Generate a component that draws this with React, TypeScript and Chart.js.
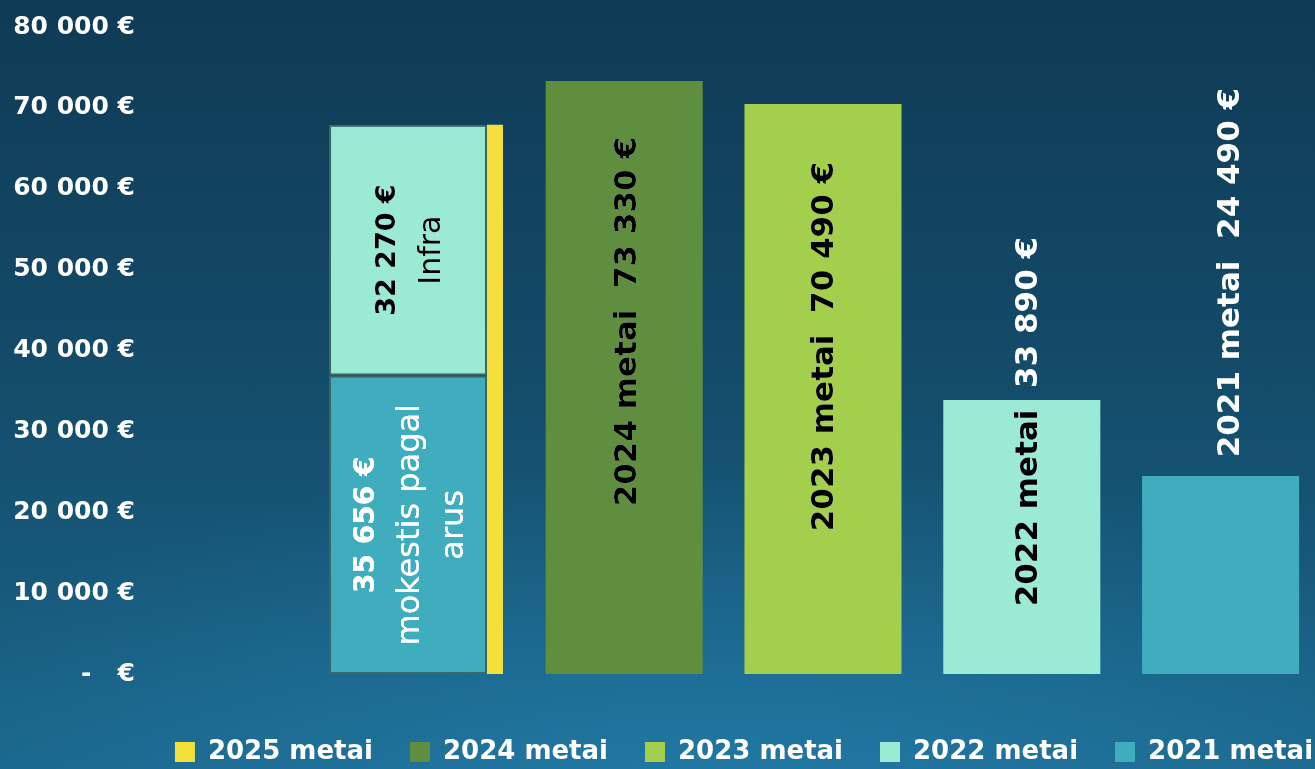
import React, { useEffect, useRef } from "react";
import { Chart, registerables } from "chart.js";

Chart.register(...registerables);

// ---------- data ----------
const categories = ["2025", "2024", "2023", "2022", "2021"];
const mokestisValues = [36900, null, null, null, null];
const infraValues = [31026, null, null, null, null];
const values2025 = [67926, null, null, null, null];
const values2024 = [null, 73330, null, null, null];
const values2023 = [null, null, 70490, null, null];
const values2022 = [null, null, null, 33890, null];
const values2021 = [null, null, null, null, 24490];
const seriesNames = ["2025 metai", "2024 metai", "2023 metai", "2022 metai", "2021 metai"];
const yTickValues = [0, 10000, 20000, 30000, 40000, 50000, 60000, 70000, 80000];
const yTickLabels = ["-   €", "10 000 €", "20 000 €", "30 000 €", "40 000 €", "50 000 €", "60 000 €", "70 000 €", "80 000 €"];
const mokestisLabel = ["35 656 €", "mokestis pagal", "arus"];
const infraLabel = ["32 270 €", "Infra"];
const yearLabels = ["2024 metai  73 330 €", "2023 metai  70 490 €", "2022 metai  33 890 €", "2021 metai  24 490 €"];

// ---------- styles ----------
const FONT = '"DejaVu Sans", "Noto Sans", sans-serif';
const colors = {
  y2025: "#f4df3b",
  y2024: "#5f8f3e",
  y2023: "#a3cf4c",
  y2022: "#9aead6",
  y2021: "#40adbe",
  border: "#3c6865",
};

type Line = { text: string; bold: boolean; size: number };
type LabelSpec = {
  dataset: number;
  index: number;
  mode: "center" | "end";
  dx: number;
  dy: number;
  gap: number;
  inside: string;
  outside: string;
  lines: Line[];
};

const labelSpecs: LabelSpec[] = [
  {
    dataset: 0, index: 0, mode: "center", dx: 3, dy: 0, gap: 44, inside: "#ffffff", outside: "#ffffff",
    lines: [
      { text: mokestisLabel[0], bold: true, size: 28 },
      { text: mokestisLabel[1], bold: false, size: 32 },
      { text: mokestisLabel[2], bold: false, size: 32 },
    ],
  },
  {
    dataset: 1, index: 0, mode: "center", dx: 2, dy: 0, gap: 45, inside: "#000000", outside: "#ffffff",
    lines: [
      { text: infraLabel[0], bold: true, size: 27 },
      { text: infraLabel[1], bold: false, size: 30 },
    ],
  },
  { dataset: 3, index: 1, mode: "end", dx: 4, dy: 56, gap: 0, inside: "#000000", outside: "#ffffff", lines: [{ text: yearLabels[0], bold: true, size: 31 }] },
  { dataset: 4, index: 2, mode: "end", dx: 1.5, dy: 58, gap: 0, inside: "#000000", outside: "#ffffff", lines: [{ text: yearLabels[1], bold: true, size: 31 }] },
  { dataset: 5, index: 3, mode: "end", dx: 7.5, dy: -163, gap: 0, inside: "#000000", outside: "#ffffff", lines: [{ text: yearLabels[2], bold: true, size: 31 }] },
  { dataset: 6, index: 4, mode: "end", dx: 10.5, dy: -388, gap: 0, inside: "#000000", outside: "#ffffff", lines: [{ text: yearLabels[3], bold: true, size: 31 }] },
];

const barTextPlugin = {
  id: "barTexts",
  afterDatasetsDraw(chart: any) {
    const ctx: CanvasRenderingContext2D = chart.ctx;
    for (const spec of labelSpecs) {
      const meta = chart.getDatasetMeta(spec.dataset);
      const el = meta.data[spec.index];
      if (!el) continue;
      const { x, y, base, width } = el.getProps(["x", "y", "base", "width"], true);
      const left = x - width / 2;
      const top = Math.min(y, base);
      const h = Math.abs(base - y);
      const draw = (color: string) => {
        ctx.save();
        const ty = spec.mode === "center" ? (y + base) / 2 : y + spec.dy;
        ctx.translate(x + spec.dx, ty);
        ctx.rotate(-Math.PI / 2);
        ctx.fillStyle = color;
        ctx.textBaseline = "middle";
        ctx.textAlign = spec.mode === "center" ? "center" : "right";
        const n = spec.lines.length;
        spec.lines.forEach((ln, i) => {
          ctx.font = `${ln.bold ? "bold " : ""}${ln.size}px ${FONT}`;
          ctx.fillText(ln.text, 0, (i - (n - 1) / 2) * spec.gap);
        });
        ctx.restore();
      };
      draw(spec.outside);
      ctx.save();
      ctx.beginPath();
      ctx.rect(left, top, width, h);
      ctx.clip();
      draw(spec.inside);
      ctx.restore();
    }
  },
};

const W = 1488;
const H = 775;

export default function App() {
  const ref = useRef<HTMLCanvasElement | null>(null);

  useEffect(() => {
    if (!ref.current) return;
    const yearBar = { categoryPercentage: 0.79, barPercentage: 1, borderWidth: 0 };
    const chart = new Chart(ref.current, {
      type: "bar",
      data: {
        labels: categories,
        datasets: [
          {
            label: "mokestis pagal arus",
            data: mokestisValues,
            stack: "a",
            backgroundColor: colors.y2021,
            borderColor: colors.border,
            borderWidth: 2,
            borderSkipped: false,
            categoryPercentage: 0.35,
            barPercentage: 4.54,
          },
          {
            label: "Infra",
            data: infraValues,
            stack: "a",
            backgroundColor: colors.y2022,
            borderColor: colors.border,
            borderWidth: 2,
            borderSkipped: false,
            categoryPercentage: 0.35,
            barPercentage: 4.54,
          },
          {
            label: seriesNames[0],
            data: values2025,
            stack: "b",
            backgroundColor: colors.y2025,
            borderWidth: 0,
            categoryPercentage: 1.4,
            barPercentage: 0.115,
          },
          { label: seriesNames[1], data: values2024, stack: "c", backgroundColor: colors.y2024, ...yearBar },
          { label: seriesNames[2], data: values2023, stack: "d", backgroundColor: colors.y2023, ...yearBar },
          { label: seriesNames[3], data: values2022, stack: "e", backgroundColor: colors.y2022, ...yearBar },
          { label: seriesNames[4], data: values2021, stack: "f", backgroundColor: colors.y2021, ...yearBar },
        ] as any,
      },
      options: {
        animation: false,
        responsive: false,
        maintainAspectRatio: false,
        devicePixelRatio: 1,
        layout: { padding: { top: 27, left: 0, right: 0, bottom: 0 } },
        datasets: { bar: { skipNull: true } } as any,
        plugins: {
          tooltip: { enabled: false },
          legend: {
            position: "bottom",
            align: "center",
            labels: {
              boxWidth: 20,
              boxHeight: 20,
              padding: 37,
              color: "#ffffff",
              font: { family: FONT, weight: "bold", size: 26 },
              filter: (item: any) => item.datasetIndex >= 2,
            },
          },
        },
        scales: {
          x: {
            type: "category",
            offset: true,
            grid: { display: false, drawTicks: false },
            border: { display: false },
            ticks: { display: false },
            afterFit: (s: any) => {
              s.height = 28;
            },
          },
          y: {
            type: "linear",
            position: "left",
            min: 0,
            max: 80000,
            grid: { display: false, drawTicks: false },
            border: { display: false },
            afterBuildTicks: (s: any) => {
              s.ticks = yTickValues.map((v) => ({ value: v }));
            },
            ticks: {
              color: "#ffffff",
              padding: 191,
              font: { family: FONT, weight: "bold", size: 25 },
              callback: (v: any) => {
                const i = yTickValues.indexOf(Number(v));
                return i >= 0 ? yTickLabels[i] : "";
              },
            },
            afterFit: (s: any) => {
              s.width = 326;
              s.paddingTop = 0;
              s.paddingBottom = 0;
            },
          },
          yRightSpace: {
            type: "linear",
            position: "right",
            display: true,
            grid: { display: false, drawTicks: false },
            border: { display: false },
            ticks: { display: false },
            afterFit: (s: any) => {
              s.width = 168;
              s.paddingTop = 0;
              s.paddingBottom = 0;
            },
          },
        } as any,
      },
      plugins: [barTextPlugin as any],
    });
    return () => chart.destroy();
  }, []);

  return (
    <div
      style={{
        position: "fixed",
        left: 0,
        top: 0,
        width: 1315,
        height: 769,
        overflow: "hidden",
        background:
          "radial-gradient(ellipse 70% 45% at 55% 105%, rgba(40,140,190,0.55) 0%, rgba(40,140,190,0) 100%), linear-gradient(to bottom, #0f3a55 0%, #134a68 45%, #1a6488 100%)",
      }}
    >
      <canvas ref={ref} width={W} height={H} style={{ display: "block", width: W, height: H }} />
    </div>
  );
}
